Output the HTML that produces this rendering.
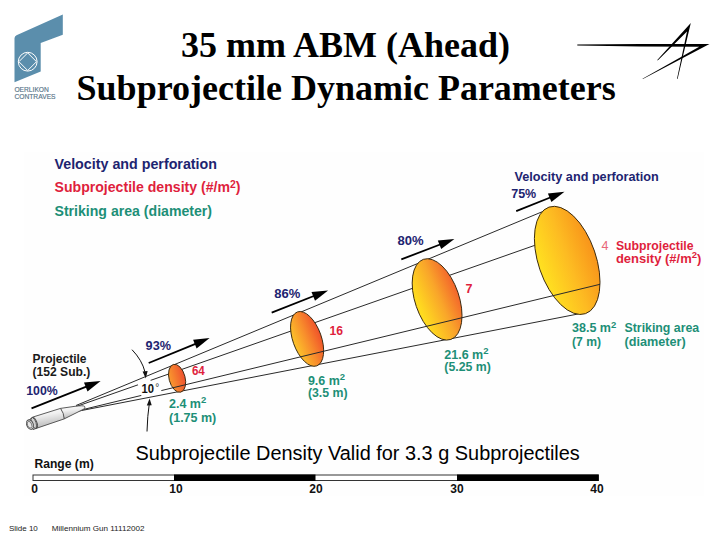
<!DOCTYPE html>
<html><head><meta charset="utf-8">
<style>
html,body{margin:0;padding:0;background:#fff;}
body{width:720px;height:540px;overflow:hidden;position:relative;}
svg{position:absolute;left:0;top:0;}
.t{font-family:"Liberation Serif",serif;font-weight:bold;font-size:36px;fill:#000;}
.s{font-family:"Liberation Sans",sans-serif;font-weight:bold;}
.n{fill:#1d2470;} .r{fill:#df1f3d;} .g{fill:#1d8f77;}
.reg{font-family:"Liberation Sans",sans-serif;font-weight:normal;}
</style></head>
<body>
<svg width="720" height="540" viewBox="0 0 720 540">
<defs>
  <linearGradient id="gBig" x1="0" y1="0.05" x2="1" y2="0">
    <stop offset="0" stop-color="#ffe020"/><stop offset="0.5" stop-color="#fdbb22"/><stop offset="1" stop-color="#f8921a"/>
  </linearGradient>
  <linearGradient id="gMed" x1="0" y1="0.15" x2="1" y2="0">
    <stop offset="0" stop-color="#ffdc1f"/><stop offset="0.5" stop-color="#f9a52a"/><stop offset="1" stop-color="#f25a2c"/>
  </linearGradient>
  <linearGradient id="g96" x1="0" y1="0.1" x2="1" y2="0">
    <stop offset="0" stop-color="#fcc02a"/><stop offset="0.45" stop-color="#f88e2c"/><stop offset="1" stop-color="#ef4c2a"/>
  </linearGradient>
  <linearGradient id="gSm" x1="0" y1="0" x2="1" y2="0">
    <stop offset="0" stop-color="#f99a2e"/><stop offset="1" stop-color="#ee502e"/>
  </linearGradient>
  <linearGradient id="gProj" x1="0" y1="0" x2="0.25" y2="1">
    <stop offset="0" stop-color="#ffffff"/><stop offset="0.4" stop-color="#f0f0f0"/><stop offset="1" stop-color="#b8b8b8"/>
  </linearGradient>
</defs>
<rect x="24" y="152" width="680" height="344" fill="#fefefe"/>

<path d="M14.5,38.2 Q14.5,36.2 16.5,35.3 L62.8,14.6 L62.8,34.8 L40.7,42.9 L40.7,71.6 L14.5,82.3 Z" fill="#5b8eac"/>
<circle cx="27.7" cy="61.7" r="9.4" fill="none" stroke="#fff" stroke-width="1"/>
<path d="M27.7,52.9 L36.5,61.7 L27.7,70.5 L18.9,61.7 Z" fill="none" stroke="#fff" stroke-width="1" stroke-linejoin="round"/>
<text x="14.4" y="92.3" class="reg" font-size="6.8" fill="#587488" stroke="#587488" stroke-width="0.15" textLength="34.5" lengthAdjust="spacingAndGlyphs">OERLIKON</text>
<text x="14.4" y="99.4" class="reg" font-size="6.8" fill="#587488" stroke="#587488" stroke-width="0.15" textLength="41.2" lengthAdjust="spacingAndGlyphs">CONTRAVES</text>
<text x="345.5" y="57.2" class="t" text-anchor="middle">35 mm ABM (Ahead)</text>
<text x="346.2" y="100.3" class="t" text-anchor="middle">Subprojectile Dynamic Parameters</text>
<path d="M577.3,44.6 L640,44.0 L709.5,44.0 L642.9,79.1 L642.5,78.7 L699.2,46.7 L640,46.4 L577.3,45.4 Z" fill="#000"/>
<path d="M657.28,60.0 L690.8,23.0 L677.59,78.97 L677.01,78.83 L687.0,31.5 L657.72,60.4 Z" fill="#000"/>
<text x="54.5" y="169" class="s n" font-size="15" textLength="162.5" lengthAdjust="spacingAndGlyphs">Velocity and perforation</text>
<text x="54.5" y="191.6" class="s r" font-size="15" textLength="186" lengthAdjust="spacingAndGlyphs">Subprojectile density (#/m<tspan font-size="11" dy="-4">2</tspan><tspan dy="4">)</tspan></text>
<text x="54.5" y="216.4" class="s g" font-size="15" textLength="157.5" lengthAdjust="spacingAndGlyphs">Striking area (diameter)</text>
<g stroke="#2a2a2a" stroke-width="1" fill="none">
<line x1="76" y1="405.5" x2="550" y2="208.5"/>
<line x1="76" y1="406.6" x2="540" y2="243.5"/>
<line x1="76" y1="411.6" x2="578" y2="314"/>
</g>
<g stroke="#3a2a10" stroke-width="0.9">
<ellipse cx="177.1" cy="378.3" rx="8.04" ry="14.33" transform="rotate(-14.9 177.1 378.3)" fill="url(#gSm)"/>
<ellipse cx="307.1" cy="338.9" rx="14.27" ry="28.65" transform="rotate(-19.7 307.1 338.9)" fill="url(#g96)"/>
<ellipse cx="437.1" cy="299.4" rx="21.98" ry="42.35" transform="rotate(-18.9 437.1 299.4)" fill="url(#gMed)"/>
<ellipse cx="567.2" cy="260.4" rx="28.82" ry="56.32" transform="rotate(-18.9 567.2 260.4)" fill="url(#gBig)"/>
</g>
<line x1="76" y1="411.25" x2="600" y2="284.3" stroke="#2a2a2a" stroke-width="1"/>
<line x1="138" y1="384.81" x2="150.6" y2="380.39" stroke="#fff" stroke-width="2.6"/>
<line x1="141.3" y1="395.43" x2="161.3" y2="390.59" stroke="#fff" stroke-width="2.6"/>
<text x="141.5" y="392.8" class="s" font-size="13" fill="#111" textLength="12.5" lengthAdjust="spacingAndGlyphs">10</text>
<text x="155.3" y="390.5" class="reg" font-size="10" fill="#333">°</text>
<path d="M132,349.7 Q142,360 145,372" stroke="#111" stroke-width="1" fill="none"/>
<path d="M142.6,371.5 L145.8,378.5 L147.6,371" fill="#111"/>
<path d="M147,431.5 Q147.5,415 149.2,404.5" stroke="#111" stroke-width="1" fill="none"/>
<path d="M146.8,405.5 L149.6,398.5 L151.7,405.3" fill="#111"/>
<g stroke="#4a4a4a" stroke-width="0.9">
<path d="M60.5,408.4 L75,406.3 Q83.5,405.2 84.6,406.4 Q85.3,407.8 84.2,408.9 L64.2,418.9 Z" fill="url(#gProj)"/>
<path d="M32.4,417.2 L60.5,408.4 Q64,413 64.2,418.9 L36.2,428.4 Z" fill="url(#gProj)"/>
<path d="M29.5,419.6 L32.6,417.4 Q37.5,421.5 36.2,428.4 L33,429.6 Z" fill="#d0d0d0"/>
<ellipse cx="34.3" cy="422.9" rx="2.6" ry="5.7" transform="rotate(-22 34.3 422.9)" fill="none"/>
<ellipse cx="30" cy="424.6" rx="3.3" ry="5" transform="rotate(-22 30 424.6)" fill="#cfcfcf"/>
<ellipse cx="29.6" cy="424.8" rx="2.1" ry="3.5" transform="rotate(-22 29.6 424.8)" fill="#e8e8e8" stroke-width="0.6"/>
</g>
<g fill="#000">
<line x1="31.5" y1="408.4" x2="87.6" y2="386.2" stroke="#000" stroke-width="1.8"/>
<path d="M100.6,381.1 L87.5,391.4 L84.0,382.6 Z"/>
<line x1="148.7" y1="363.0" x2="196.7" y2="343.3" stroke="#000" stroke-width="1.8"/>
<path d="M209.6,338.0 L196.6,348.4 L193.1,339.7 Z"/>
<line x1="271.7" y1="312.7" x2="315.1" y2="295.5" stroke="#000" stroke-width="1.8"/>
<path d="M328.1,290.4 L315.0,300.7 L311.5,291.9 Z"/>
<line x1="401.3" y1="259.4" x2="441.4" y2="244.0" stroke="#000" stroke-width="1.8"/>
<path d="M454.4,239.0 L441.2,249.1 L437.8,240.4 Z"/>
<line x1="516.2" y1="211.2" x2="551.5" y2="197.0" stroke="#000" stroke-width="1.8"/>
<path d="M564.5,191.7 L551.4,202.1 L547.9,193.4 Z"/>
</g>
<text x="32.5" y="362.5" class="s" font-size="12.5" fill="#1a1a1a" textLength="54" lengthAdjust="spacingAndGlyphs">Projectile</text>
<text x="32.5" y="375.5" class="s" font-size="12.5" fill="#1a1a1a" textLength="57.8" lengthAdjust="spacingAndGlyphs">(152 Sub.)</text>
<text x="26.2" y="394.8" class="s n" font-size="12.5" textLength="31.5" lengthAdjust="spacingAndGlyphs">100%</text>
<text x="145.6" y="350.4" class="s n" font-size="12.5" textLength="25.4" lengthAdjust="spacingAndGlyphs">93%</text>
<text x="274.2" y="297.7" class="s n" font-size="12.5" textLength="26" lengthAdjust="spacingAndGlyphs">86%</text>
<text x="397.4" y="245.2" class="s n" font-size="12.5" textLength="26.1" lengthAdjust="spacingAndGlyphs">80%</text>
<text x="511.2" y="198" class="s n" font-size="12.5" textLength="25" lengthAdjust="spacingAndGlyphs">75%</text>
<text x="514.5" y="181.2" class="s n" font-size="13.2" textLength="144.2" lengthAdjust="spacingAndGlyphs">Velocity and perforation</text>
<text x="191.9" y="375.4" class="s r" font-size="12.5" textLength="12.9" lengthAdjust="spacingAndGlyphs">64</text>
<text x="329.4" y="335.3" class="s r" font-size="12.5" textLength="13.5" lengthAdjust="spacingAndGlyphs">16</text>
<text x="465.6" y="293.2" class="s r" font-size="12.5">7</text>
<text x="601.4" y="249.7" class="reg" font-size="12.5" fill="#e8667a">4</text>
<text x="615.9" y="249.7" class="s r" font-size="13" textLength="77.7" lengthAdjust="spacingAndGlyphs">Subprojectile</text>
<text x="615.9" y="262.5" class="s r" font-size="13">density (#/m<tspan font-size="9.5" dy="-4.5">2</tspan><tspan dy="4.5">)</tspan></text>
<text x="169" y="407.8" class="s g" font-size="12.5">2.4 m<tspan font-size="9.5" dy="-4.5">2</tspan></text>
<text x="169" y="422" class="s g" font-size="12.5" textLength="47.3" lengthAdjust="spacingAndGlyphs">(1.75 m)</text>
<text x="307.9" y="384.8" class="s g" font-size="12.5">9.6 m<tspan font-size="9.5" dy="-4.5">2</tspan></text>
<text x="307.9" y="397" class="s g" font-size="12.5" textLength="39.7" lengthAdjust="spacingAndGlyphs">(3.5 m)</text>
<text x="444.3" y="358.7" class="s g" font-size="12.5">21.6 m<tspan font-size="9.5" dy="-4.5">2</tspan></text>
<text x="444.3" y="370.6" class="s g" font-size="12.5" textLength="46.5" lengthAdjust="spacingAndGlyphs">(5.25 m)</text>
<text x="572" y="332.3" class="s g" font-size="12.5">38.5 m<tspan font-size="9.5" dy="-4.5">2</tspan></text>
<text x="572" y="345.6" class="s g" font-size="12.5" textLength="29" lengthAdjust="spacingAndGlyphs">(7 m)</text>
<text x="624.5" y="332.3" class="s g" font-size="13" textLength="74.7" lengthAdjust="spacingAndGlyphs">Striking area</text>
<text x="624.5" y="345.6" class="s g" font-size="13" textLength="61.2" lengthAdjust="spacingAndGlyphs">(diameter)</text>
<text x="135.5" y="460" class="reg" font-size="20" fill="#000" textLength="444.3" lengthAdjust="spacingAndGlyphs">Subprojectile Density Valid for 3.3 g Subprojectiles</text>
<text x="34.5" y="467.5" class="s" font-size="12" fill="#111" textLength="59.2" lengthAdjust="spacingAndGlyphs">Range (m)</text>
<rect x="33" y="475" width="565.5" height="5.5" fill="#fff" stroke="#333" stroke-width="1"/>
<rect x="174" y="474.5" width="141.5" height="6.5" fill="#000"/>
<rect x="457" y="474.5" width="141.5" height="6.5" fill="#000"/>
<text x="34.5" y="492.5" class="s" font-size="12" fill="#111" text-anchor="middle">0</text>
<text x="176" y="492.5" class="s" font-size="12" fill="#111" text-anchor="middle">10</text>
<text x="316" y="492.5" class="s" font-size="12" fill="#111" text-anchor="middle">20</text>
<text x="457" y="492.5" class="s" font-size="12" fill="#111" text-anchor="middle">30</text>
<text x="597" y="492.5" class="s" font-size="12" fill="#111" text-anchor="middle">40</text>
<text x="8.9" y="531" class="reg" font-size="8" fill="#222">Slide 10</text>
<text x="51.8" y="531" class="reg" font-size="8" fill="#222" textLength="92.6" lengthAdjust="spacingAndGlyphs">Millennium Gun 11112002</text>
</svg>
</body></html>
